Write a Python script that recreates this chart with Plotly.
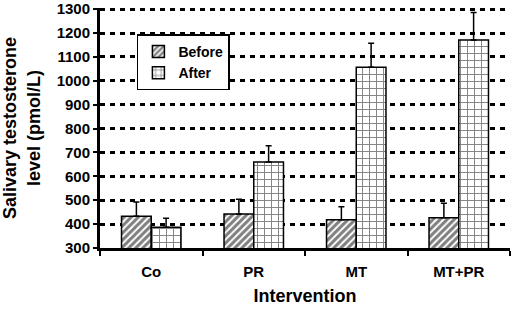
import plotly.graph_objects as go

categories = ["Co", "PR", "MT", "MT+PR"]
before_vals = [433, 442, 418, 427]
before_err = [60, 62, 55, 60]
after_vals = [387, 660, 1057, 1171]
after_err = [38, 68, 100, 115]
y_ticks = [300, 400, 500, 600, 700, 800, 900, 1000, 1100, 1200, 1300]

FONT = "Arial, Liberation Sans, sans-serif"

fig = go.Figure()
fig.add_trace(go.Bar(
    name="Before", x=categories, y=before_vals,
    marker=dict(color="white", line=dict(color="black", width=1.5),
                pattern=dict(shape="/", fgcolor="black", bgcolor="white", size=5, solidity=0.6)),
    error_y=dict(type="data", array=before_err, arrayminus=[0]*4, symmetric=False,
                 color="black", thickness=1.5, width=3),
))
fig.add_trace(go.Bar(
    name="After", x=categories, y=after_vals,
    marker=dict(color="white", line=dict(color="black", width=1.5),
                pattern=dict(shape="+", fgcolor="black", bgcolor="white", size=7, solidity=0.25)),
    error_y=dict(type="data", array=after_err, arrayminus=[0]*4, symmetric=False,
                 color="black", thickness=1.5, width=3),
))

fig.update_layout(
    width=512, height=310,
    margin=dict(l=100, r=2, t=8, b=62),
    paper_bgcolor="white", plot_bgcolor="white",
    barmode="group", bargap=0.42, bargroupgap=0,
    font=dict(family=FONT, color="black"),
    showlegend=True,
    legend=dict(x=0.09, y=0.89, xanchor="left", yanchor="top",
                bordercolor="black", borderwidth=1.5, bgcolor="white",
                font=dict(family=FONT, size=14, color="black", weight="bold"),
                itemwidth=30, tracegroupgap=0),
)
fig.update_xaxes(
    automargin=False,
    showline=True, linecolor="black", linewidth=3,
    ticks="outside", tickson="boundaries", ticklen=5, tickwidth=2, tickcolor="black",
    tickfont=dict(family=FONT, size=15, weight="bold"), ticklabelstandoff=8,
    title=dict(text="Intervention", font=dict(family=FONT, size=18, weight="bold"), standoff=11),
    showgrid=False,
)
fig.update_yaxes(
    automargin=False,
    range=[300, 1305], tickvals=y_ticks,
    showline=True, linecolor="black", linewidth=3,
    ticks="outside", ticklen=4, tickwidth=2, tickcolor="black",
    tickfont=dict(family=FONT, size=15, weight="bold"), ticklabeloverflow="allow",
    showgrid=True, gridcolor="black", gridwidth=3, griddash="5px,5px",
    zeroline=False,
    title=dict(text="Salivary testosterone<br>level (pmol/L)",
               font=dict(family=FONT, size=18, weight="bold"), standoff=12),
)

fig.write_html("out.html", config={"displayModeBar": False},
               post_script="document.body.style.margin='0';")
